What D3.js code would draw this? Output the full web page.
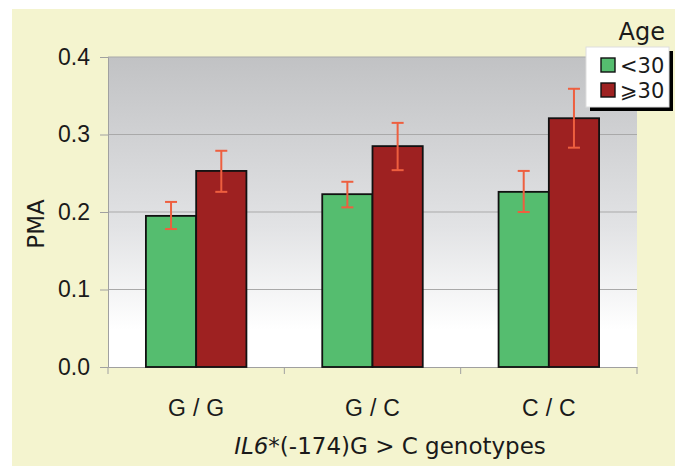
<!DOCTYPE html>
<html>
<head>
<meta charset="utf-8">
<script src="https://cdn.jsdelivr.net/npm/d3@7"></script>
<style>
  body { margin: 0; background: #fff; }
  svg { display: block; font-family: "DejaVu Sans", sans-serif; }
</style>
</head>
<body>
<svg id="chart"></svg>
<script>
const genotypes = ['G/G', 'G/C', 'C/C'];
const ageGroups = ['<30', '\u2A7E30'];
const meanYoung = [0.195, 0.223, 0.226];
const meanOld = [0.253, 0.285, 0.321];
const errLowYoung = [0.178, 0.206, 0.200];
const errHighYoung = [0.213, 0.239, 0.253];
const errLowOld = [0.226, 0.254, 0.283];
const errHighOld = [0.279, 0.315, 0.359];
const yTicks = [0, 0.1, 0.2, 0.3, 0.4];

const width = 675, height = 466;
const margin = {top: 57, right: 38, bottom: 99, left: 108};
const colors = ['#55bd6f', '#9e2121'];

const svg = d3.select('#chart').attr('width', width).attr('height', height);

// yellow panel
svg.append('rect').attr('x', 12).attr('y', 9).attr('width', width - 12).attr('height', height - 9)
  .attr('fill', '#f4f4cf');

const defs = svg.append('defs');
const grad = defs.append('linearGradient').attr('id', 'bg').attr('x1', 0).attr('y1', 0).attr('x2', 0).attr('y2', 1);
grad.append('stop').attr('offset', '0%').attr('stop-color', '#c1c2c4');
grad.append('stop').attr('offset', '55%').attr('stop-color', '#e2e3e5');
grad.append('stop').attr('offset', '88%').attr('stop-color', '#ffffff');
grad.append('stop').attr('offset', '100%').attr('stop-color', '#ffffff');

const x0 = d3.scaleBand().domain(genotypes).range([margin.left, width - margin.right]);
const bw = x0.bandwidth();
const x1 = d3.scaleBand().domain(ageGroups).range([bw * 0.215, bw * 0.785]);
const y = d3.scaleLinear().domain([0, 0.4]).range([height - margin.bottom, margin.top]);

const g = svg.append('g');
g.append('rect').attr('x', margin.left).attr('y', margin.top)
  .attr('width', width - margin.right - margin.left).attr('height', y(0) - margin.top)
  .attr('fill', 'url(#bg)');

// grid lines
g.selectAll('.grid').data(yTicks.slice(1)).join('line')
  .attr('x1', margin.left).attr('x2', width - margin.right)
  .attr('y1', d => y(d)).attr('y2', d => y(d))
  .attr('stroke', '#a9a9a9').attr('stroke-width', 1);

// y axis
const yAxis = g.append('g').attr('transform', `translate(${margin.left},0)`)
  .call(d3.axisLeft(y).tickValues(yTicks).tickFormat(d3.format('.1f')).tickSize(8).tickPadding(10));
yAxis.select('.domain').attr('stroke', '#a0a0a0');
yAxis.selectAll('.tick line').attr('stroke', '#a0a0a0');
yAxis.selectAll('text').attr('font-size', 23).attr('fill', '#1a1a1a');

// x axis
const xAxis = g.append('g').attr('transform', `translate(0,${y(0)})`)
  .call(d3.axisBottom(x0).tickSize(0).tickPadding(33));
xAxis.select('.domain').attr('stroke', '#a0a0a0');
xAxis.selectAll('text').attr('font-size', 23).attr('fill', '#1a1a1a').attr('letter-spacing', 7)
  .attr('dx', 3.5);
g.selectAll('.xsep').data(genotypes.concat(['end'])).join('line')
  .attr('x1', (d, i) => margin.left + i * bw).attr('x2', (d, i) => margin.left + i * bw)
  .attr('y1', y(0)).attr('y2', y(0) + 7)
  .attr('stroke', '#a0a0a0');

// bars
const rows = genotypes.map((gt, i) => [
  {gt, s: ageGroups[0], v: meanYoung[i], lo: errLowYoung[i], hi: errHighYoung[i], c: colors[0]},
  {gt, s: ageGroups[1], v: meanOld[i], lo: errLowOld[i], hi: errHighOld[i], c: colors[1]}
]).flat();

g.selectAll('.bar').data(rows).join('rect')
  .attr('x', d => x0(d.gt) + x1(d.s))
  .attr('y', d => y(d.v))
  .attr('width', x1.bandwidth())
  .attr('height', d => y(0) - y(d.v))
  .attr('fill', d => d.c)
  .attr('stroke', '#111').attr('stroke-width', 1.8);

// error bars
const eb = g.selectAll('.err').data(rows).join('g')
  .attr('transform', d => `translate(${x0(d.gt) + x1(d.s) + x1.bandwidth() / 2},0)`)
  .attr('stroke', '#ee5f3f').attr('stroke-width', 2);
eb.append('line').attr('y1', d => y(d.lo)).attr('y2', d => y(d.hi));
eb.append('line').attr('x1', -6).attr('x2', 6).attr('y1', d => y(d.lo)).attr('y2', d => y(d.lo));
eb.append('line').attr('x1', -6).attr('x2', 6).attr('y1', d => y(d.hi)).attr('y2', d => y(d.hi));

// axis titles
svg.append('text').attr('transform', 'translate(44,224) rotate(-90)')
  .attr('text-anchor', 'middle').attr('font-size', 23).attr('fill', '#1a1a1a').text('PMA');

const xt = svg.append('text').attr('x', 390).attr('y', 454).attr('text-anchor', 'middle')
  .attr('font-size', 23).attr('fill', '#1a1a1a');
xt.append('tspan').attr('font-style', 'italic').text('IL6');
xt.append('tspan').text('*(-174)G > C genotypes');

// legend
const lg = svg.append('g').attr('transform', 'translate(586,47)');
lg.append('rect').attr('x', 4).attr('y', 4).attr('width', 83).attr('height', 60).attr('fill', '#000');
lg.append('rect').attr('width', 83).attr('height', 60).attr('fill', '#fff').attr('stroke', '#ddd');
svg.append('text').attr('x', 665).attr('y', 40).attr('text-anchor', 'end')
  .attr('font-size', 24).attr('fill', '#1a1a1a').text('Age');
const li = lg.selectAll('.li').data(ageGroups).join('g')
  .attr('transform', (d, i) => `translate(15,${11 + i * 25})`);
li.append('rect').attr('width', 14).attr('height', 14)
  .attr('fill', (d, i) => colors[i]).attr('stroke', '#111').attr('stroke-width', 1.4);
li.append('text').attr('x', 19).attr('y', 15).attr('font-size', 21).attr('fill', '#1a1a1a').text(d => d);
</script>
</body>
</html>
